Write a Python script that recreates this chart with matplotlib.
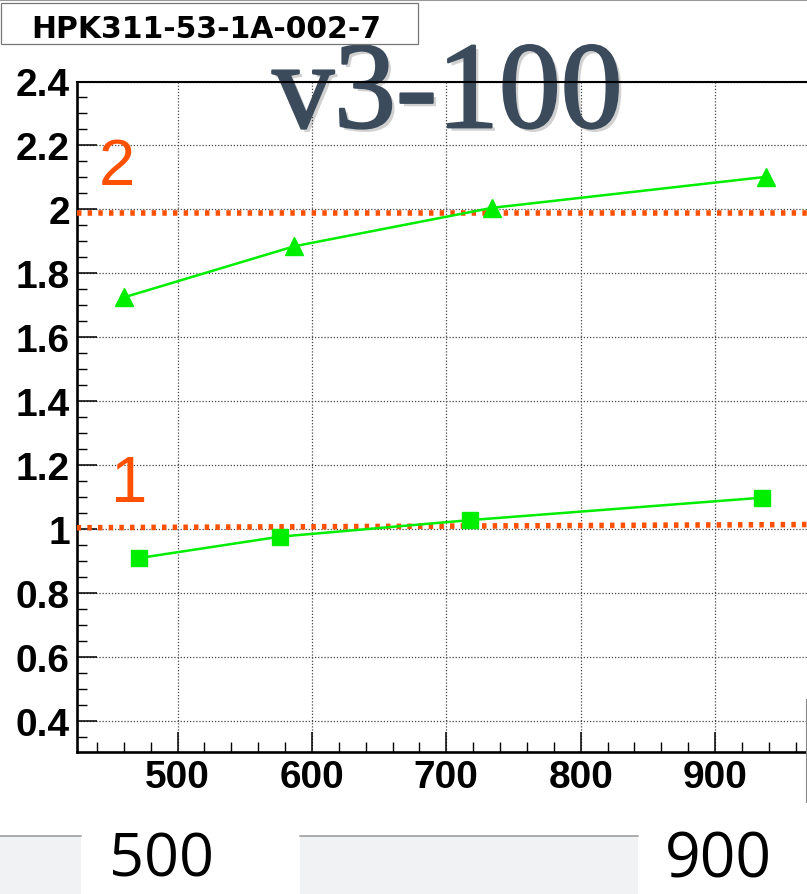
import matplotlib
matplotlib.use("Agg")
import matplotlib.pyplot as plt
import matplotlib.patheffects as pe
from matplotlib.patches import Rectangle
from matplotlib.lines import Line2D
from matplotlib.ticker import MultipleLocator, FuncFormatter

# ---- data ----
x_tri = [460, 587, 734, 938]
y_tri = [1.725, 1.885, 2.005, 2.102]
x_sq = [471, 576, 718, 935]
y_sq = [0.910, 0.977, 1.029, 1.099]
ref2_y = [1.99, 1.99]
ref1_y = [1.005, 1.015]
ref_labels = ["2", "1"]
title_text = "HPK311-53-1A-002-7"
big_text = "v3-100"
bottom_labels = ["500", "900"]
xlim = (425, 968)
ylim = (0.303, 2.4)

W, H = 807, 895
fig = plt.figure(figsize=(W / 100, H / 100), dpi=100)
fig.patch.set_facecolor("white")

def fx(x):
    return x / W

def fy(y):
    return 1 - y / H

# axes
left, right, top, bottom = 76.7, 806.5, 82.5, 753.3
ax = fig.add_axes([fx(left), fy(bottom), fx(right) - fx(left), fy(top) - fy(bottom)])
ax.set_facecolor("none")
ax.set_zorder(1)

green = "#00ee00"
orange = "#ff5000"

ax.plot(x_tri, y_tri, color=green, lw=1.8, marker="^", ms=13.5, mec=green, mfc=green, zorder=5)
ax.plot(x_sq, y_sq, color=green, lw=1.8, marker="s", ms=12, mec=green, mfc=green, zorder=5)

for yy in (ref2_y, ref1_y):
    ax.plot(list(xlim), yy, color=orange, lw=4.0, linestyle=(0, (0.8, 1.12)),
            solid_capstyle="butt", dash_capstyle="butt", zorder=4)

# orange labels (figure pixel positions)
fig.text(fx(116.5), fy(185), ref_labels[0], color=orange, fontsize=47,
         family="Liberation Sans", ha="center", va="baseline", zorder=5)
fig.text(fx(129.0), fy(501.7), ref_labels[1], color=orange, fontsize=47,
         family="Liberation Sans", ha="center", va="baseline", zorder=5)

ax.set_xlim(*xlim)
ax.set_ylim(*ylim)
ax.xaxis.set_major_locator(MultipleLocator(100))
ax.xaxis.set_minor_locator(MultipleLocator(20))
ax.yaxis.set_major_locator(MultipleLocator(0.2))
ax.yaxis.set_minor_locator(MultipleLocator(0.05))
ax.yaxis.set_major_formatter(FuncFormatter(lambda v, p: "%g" % round(v, 2)))
ax.xaxis.set_major_formatter(FuncFormatter(lambda v, p: "%g" % v))

ax.grid(True, which="major", color="#444444", linestyle=(0, (1, 1.5)), lw=0.9)
ax.set_axisbelow(True)
ax.tick_params(which="major", direction="in", length=14.4, width=1.1, color="black",
               labelsize=28, pad=5)
ax.tick_params(axis="x", which="major", pad=5)
ax.tick_params(which="minor", direction="in", length=7.2, width=1.0, color="black")
ax.tick_params(top=False, right=False, which="both")
for lab in ax.get_xticklabels() + ax.get_yticklabels():
    lab.set_fontfamily("Liberation Sans")
    lab.set_fontweight("bold")
for s in ("left", "bottom"):
    ax.spines[s].set_linewidth(1.9)
ax.spines["top"].set_linewidth(1.5)
ax.spines["right"].set_visible(False)

# big overlay text (under axes contents)
big_color = "#3b4b5c"
fig.text(fx(447.5), fy(128.3), big_text, fontsize=89, family="Liberation Serif",
         color=big_color, ha="center", va="baseline", zorder=-1,
         path_effects=[pe.SimplePatchShadow(offset=(2.5, -2.5), shadow_rgbFace="black", alpha=0.18),
                       pe.Stroke(linewidth=1.6, foreground=big_color),
                       pe.Normal()])

# title box
fig.add_artist(Rectangle((fx(0.5), fy(45)), fx(418) - fx(0.5), fy(4) - fy(45),
                         transform=fig.transFigure, facecolor="white", edgecolor="#777777",
                         lw=0.9, zorder=6))
fig.text(fx(206.5), fy(38.3), title_text, fontsize=21.5, family="DejaVu Sans",
         fontweight="bold", ha="center", va="baseline", zorder=7)

# top gray border
fig.add_artist(Line2D([0, 1], [fy(1), fy(1)], transform=fig.transFigure,
                      color="#999999", lw=1.5, zorder=6))
# right small edge
fig.add_artist(Line2D([fx(805.5), fx(805.5)], [fy(700), fy(803)], transform=fig.transFigure,
                      color="#888888", lw=0.8, zorder=6))

# bottom band
band_top = 837
for x0, x1 in ((0, 81), (300, 638)):
    fig.add_artist(Rectangle((fx(x0), 0), fx(x1) - fx(x0), fy(band_top),
                             transform=fig.transFigure, facecolor="#f0f2f3",
                             edgecolor="none", zorder=2))
    fig.add_artist(Line2D([fx(x0), fx(x1)], [fy(band_top), fy(band_top)],
                          transform=fig.transFigure, color="#999999", lw=1.1, zorder=3))

fig.text(fx(161.7), fy(876.7), bottom_labels[0], fontsize=44, family="Open Sans",
         ha="center", va="baseline", color="black", zorder=4)
fig.text(fx(718), fy(877.5), bottom_labels[1], fontsize=45, family="Open Sans",
         ha="center", va="baseline", color="black", zorder=4)

fig.savefig("out.png", dpi=100)
